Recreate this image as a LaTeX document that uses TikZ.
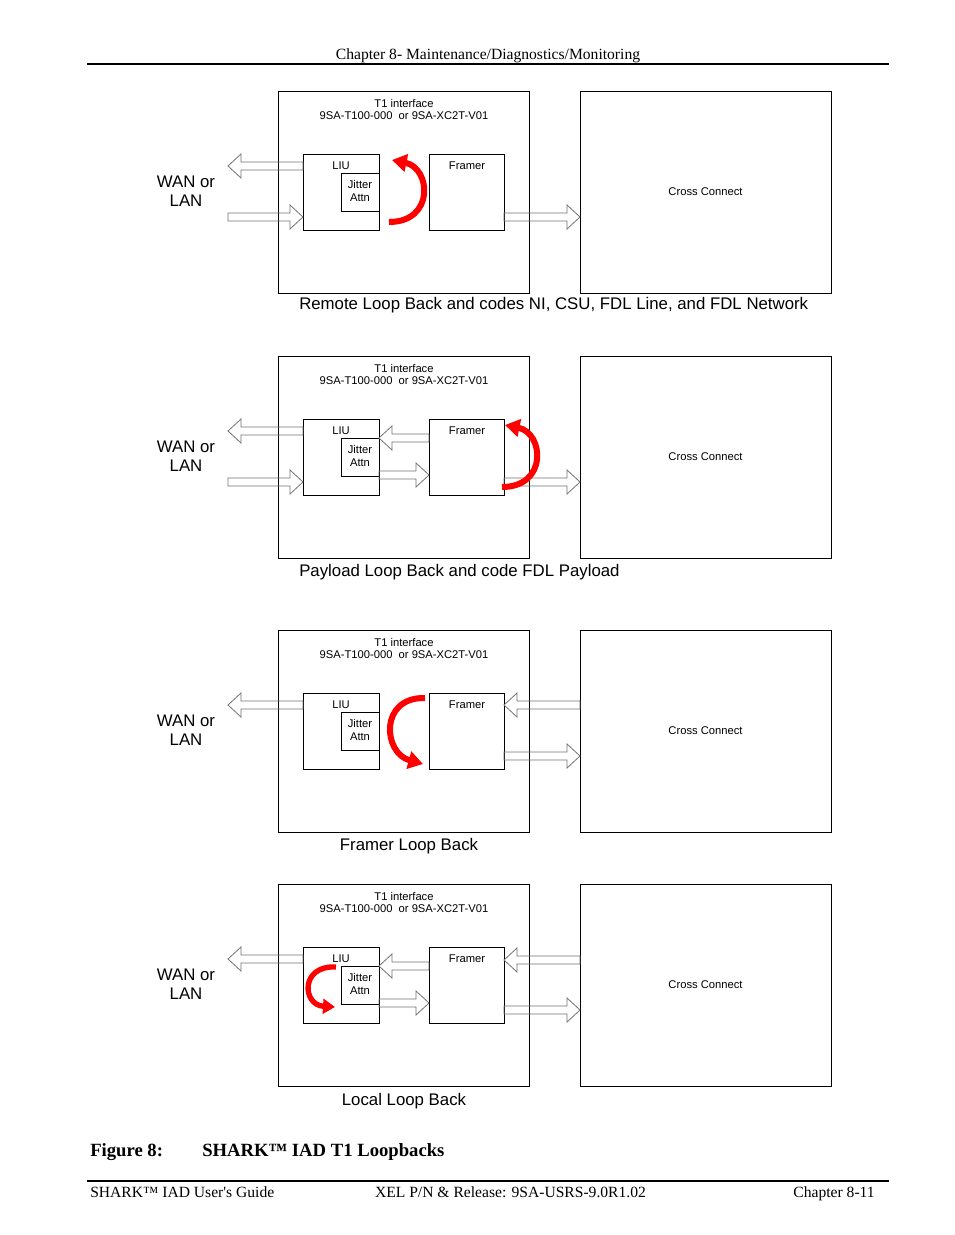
\documentclass[tikz,border=0pt]{standalone}
\usepackage{fontspec}
\setmainfont{Liberation Serif}
\newfontfamily\arial{Liberation Sans}
\usetikzlibrary{arrows.meta,calc}
\newcommand\blkR[2]{\draw[blk] let \p1=(#1), \p2=(#2) in (\x1,\y1+3pt) -- (\x2-9.75pt,\y1+3pt) -- (\x2-9.75pt,\y1+9pt) -- (\x2,\y1) -- (\x2-9.75pt,\y1-9pt) -- (\x2-9.75pt,\y1-3pt) -- (\x1,\y1-3pt) -- cycle;}
\newcommand\blkL[2]{\draw[blk] let \p1=(#1), \p2=(#2) in (\x1,\y1+3pt) -- (\x2+9.75pt,\y1+3pt) -- (\x2+9.75pt,\y1+9pt) -- (\x2,\y1) -- (\x2+9.75pt,\y1-9pt) -- (\x2+9.75pt,\y1-3pt) -- (\x1,\y1-3pt) -- cycle;}
\newcommand\tonebase[1]{%
  \node[bigbox] (t#1) at (278,91) {};
  \node[bigbox] (cc#1) at (580,91) {};
  \node[smalltxt] (cct#1) at (cc#1.center) {Cross Connect};
  \node[smalltxt] (tt#1) at (404,103) {T1 interface};
  \node[smalltxt] (tp#1) at (404,116) {9SA-T100-000\ \ or 9SA-XC2T-V01};
  \node[liubox] (liu#1) at (303,154) {};
  \node[smalltxt] (liut#1) at (341,166) {LIU};
  \node[jitbox] (jit#1) at (341,173) {};
  \node[smalltxt] (jt#1) at (360,184) {Jitter};
  \node[smalltxt] (at#1) at (360,198) {Attn};
  \node[frbox] (fr#1) at (429,154) {};
  \node[smalltxt] (frt#1) at (467,166) {Framer};
  \node[bigtxt] (wan#1) at (186,182) {WAN or};
  \node[bigtxt] (lan#1) at (186,201) {LAN};
  \coordinate (wo#1) at (228,166);
  \blkL{$(liu#1.north west)+(0,12)$}{wo#1}
  \blkR{$(fr#1.south east)+(0,-13)$}{cc#1.west}
}
\begin{document}
\begin{tikzpicture}[x=0.75pt,y=-0.75pt,
  bigbox/.style={draw, line width=0.75pt, minimum width=188.25pt, minimum height=151.5pt, anchor=north west, inner sep=0pt, outer sep=0pt},
  liubox/.style={draw, line width=0.75pt, minimum width=57pt, minimum height=57pt, anchor=north west, inner sep=0pt, outer sep=0pt},
  jitbox/.style={draw, line width=0.75pt, minimum width=28.5pt, minimum height=28.5pt, anchor=north west, inner sep=0pt, outer sep=0pt},
  frbox/.style={draw, line width=0.75pt, minimum width=56.25pt, minimum height=57pt, anchor=north west, inner sep=0pt, outer sep=0pt},
  smalltxt/.style={font=\arial\fontsize{8.4}{10}\selectfont, inner sep=0pt},
  bigtxt/.style={font=\arial\fontsize{12.6}{15}\selectfont, inner sep=0pt},
  blk/.style={draw=black!55, line width=0.6pt},
  redarr/.style={draw=red, line width=4.5pt, -{Triangle[length=11pt,width=13pt]}},
  serif/.style={font=\fontsize{11.7}{13}\selectfont, inner sep=0pt},
  capt/.style={font=\bfseries\fontsize{14}{16}\selectfont, anchor=base west, inner sep=0pt}
]
\useasboundingbox (0,0) rectangle (954,1235);
\fill[white] (0,0) rectangle (954,1235);
% header
\node[serif, anchor=base] (hdr) at (488,59) {Chapter 8- Maintenance/Diagnostics/Monitoring};
\draw[line width=0.8pt] (87,64) -- (889,64);
% diagram 1
\begin{scope}
\tonebase{1}
\coordinate (wi1) at (228,217);
\blkR{wi1}{liu1.west}
\draw[redarr] (389,222) .. controls (435,222) and (431,168) .. (392,160);
\node[bigtxt, anchor=base west] (lbl1) at (299,309) {Remote Loop Back and codes NI, CSU, FDL Line, and FDL Network};
\end{scope}
% diagram 2
\begin{scope}[yshift=-198.75pt]
\tonebase{2}
\coordinate (wi2) at (228,217);
\blkR{wi2}{liu2.west}
\blkL{$(fr2.north west)+(0,19)$}{liu2.east}
\blkR{$(jit2.south east)+(0,-1)$}{fr2.west}
\draw[redarr] (502,222) .. controls (548,222) and (544,168) .. (505,160);
\node[bigtxt, anchor=base west] (lbl2) at (299,311) {Payload Loop Back and code FDL Payload};
\end{scope}
% diagram 3
\begin{scope}[yshift=-404.25pt]
\tonebase{3}
\blkL{$(cc3.west |- fr3.north)+(0,12)$}{fr3.east}
\draw[redarr] (425,159) .. controls (379,158) and (383,214) .. (423,225);
\node[bigtxt, anchor=base] (lbl3) at (409,311) {Framer Loop Back};
\end{scope}
% diagram 4
\begin{scope}[yshift=-594.75pt]
\tonebase{4}
\blkL{$(fr4.north west)+(0,19)$}{liu4.east}
\blkR{$(jit4.south east)+(0,-1)$}{fr4.west}
\blkL{$(cc4.west |- fr4.north)+(0,13)$}{fr4.east}
\draw[redarr, line width=4pt, -{Triangle[length=9pt,width=11pt]}] (336,174) .. controls (300,172) and (302,212) .. (335,214);
\node[bigtxt, anchor=base] (lbl4) at (404,312) {Local Loop Back};
\end{scope}
% caption
\node[capt] (fig) at (90,1156) {Figure 8:};
\node[capt] (figt) at (202,1156) {SHARK™ IAD T1 Loopbacks};
% footer
\draw[line width=0.8pt] (87,1181) -- (889,1181);
\node[serif, anchor=base west] (f1) at (90,1197) {SHARK™ IAD User\textquotesingle s Guide};
\node[serif, anchor=base] (f2) at (510.5,1197) {XEL P/N \& Release: 9SA-USRS-9.0R1.02};
\node[serif, anchor=base east] (f3) at (875,1197) {Chapter 8-11};
\end{tikzpicture}
\end{document}
